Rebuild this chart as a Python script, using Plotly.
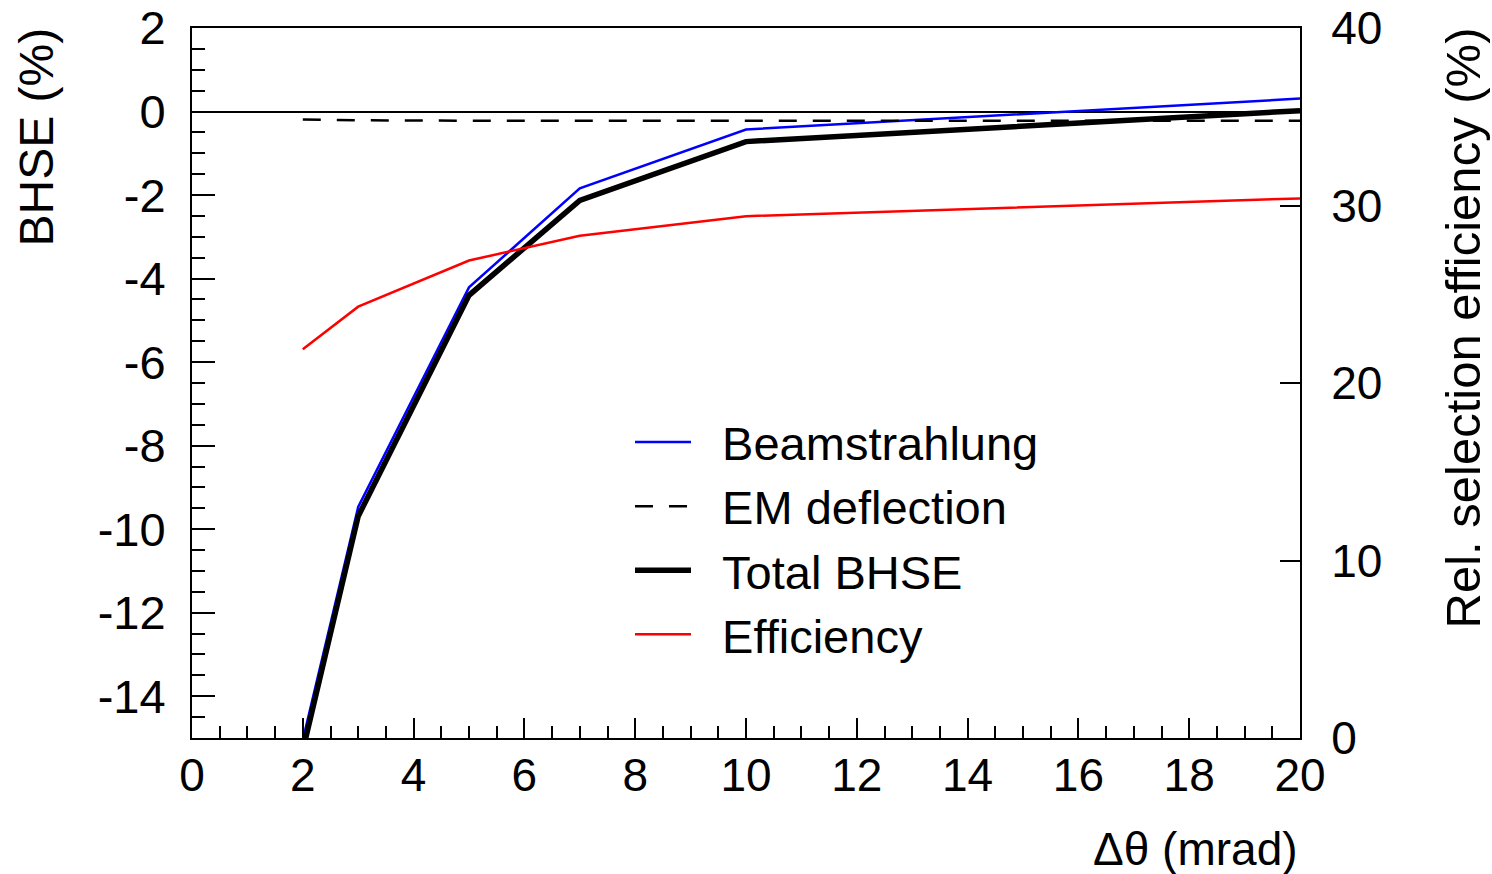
import plotly.graph_objects as go

# Data
theta = [2, 3, 5, 7, 10, 20]
beamstrahlung = [-15.05, -9.47, -4.21, -1.84, -0.43, 0.31]
em_deflection = [-0.19, -0.21, -0.22, -0.22, -0.22, -0.22]
total_bhse = [-15.3, -9.69, -4.40, -2.13, -0.72, 0.02]
efficiency = [21.9, 24.3, 26.9, 28.3, 29.4, 30.4]

x_ticks = [0, 2, 4, 6, 8, 10, 12, 14, 16, 18, 20]
y_ticks = [2, 0, -2, -4, -6, -8, -10, -12, -14]
y_ticklabels = ["2", "0", "-2", "-4", "-6", "-8", "-10", "-12", "-14"]
y2_ticks = [0, 10, 20, 30, 40]

FONT = "Liberation Sans, Arial, Helvetica, sans-serif"
FS = 46
NB = "\u00a0\u00a0"

fig = go.Figure()
fig.add_trace(go.Scatter(x=theta, y=beamstrahlung, mode="lines", name=NB + "Beamstrahlung",
                         line=dict(color="#0000ff", width=2.5)))
fig.add_trace(go.Scatter(x=theta, y=em_deflection, mode="lines", name=NB + "EM deflection",
                         line=dict(color="black", width=2.5, dash="18px,16px")))
fig.add_trace(go.Scatter(x=theta, y=total_bhse, mode="lines", name=NB + "Total BHSE",
                         line=dict(color="black", width=5.5)))
fig.add_trace(go.Scatter(x=theta, y=efficiency, mode="lines", name=NB + "Efficiency",
                         line=dict(color="#ff0000", width=2.5), yaxis="y2"))

L, R, T, B = 192, 1300, 28, 738
W, H = 1492, 874

def px(xp):
    return (xp - L) / (R - L)

def py(yp):
    return (B - yp) / (B - T)

fig.update_layout(
    width=W, height=H,
    margin=dict(l=L, r=W - R, t=T, b=H - B, pad=0, autoexpand=False),
    paper_bgcolor="white", plot_bgcolor="white",
    font=dict(family=FONT, size=FS, color="black"),
    showlegend=True,
    legend=dict(x=px(630), y=py(405), xanchor="left", yanchor="top",
                bgcolor="rgba(0,0,0,0)", font=dict(size=47, family=FONT), itemwidth=56,
                tracegroupgap=0),
    xaxis=dict(range=[0, 20], tickvals=x_ticks, showgrid=False, zeroline=False, automargin=False,
               showline=True, linecolor="black", linewidth=2, mirror=True,
               ticks="inside", ticklen=20, tickwidth=1.5, tickcolor="black",
               minor=dict(dtick=0.5, ticks="inside", ticklen=12, tickwidth=1.5, tickcolor="black"),
               tickfont=dict(size=FS), ticklabelstandoff=-4),
    yaxis=dict(range=[-15, 2], tickvals=y_ticks, ticktext=y_ticklabels, showgrid=False,
               automargin=False,
               zeroline=True, zerolinecolor="black", zerolinewidth=1.5,
               showline=True, linecolor="black", linewidth=2,
               ticks="inside", ticklen=23, tickwidth=1.5, tickcolor="black",
               minor=dict(dtick=0.5, ticks="inside", ticklen=13, tickwidth=1.5, tickcolor="black"),
               tickfont=dict(size=47), ticklabelstandoff=15),
    yaxis2=dict(range=[0, 40], tickvals=y2_ticks, overlaying="y", side="right", automargin=False,
                showgrid=False, zeroline=False, showline=True, linecolor="black", linewidth=2,
                ticks="inside", ticklen=20, tickwidth=1.5, tickcolor="black",
                tickfont=dict(size=FS), ticklabelstandoff=20),
)

fig.add_annotation(text="BHSE (%)", xref="paper", yref="paper",
                   x=px(36), y=py(26), xanchor="center", yanchor="top",
                   textangle=-90, showarrow=False, font=dict(size=48))
fig.add_annotation(text="Rel. selection efficiency (%)", xref="paper", yref="paper",
                   x=px(1462), y=py(26), xanchor="center", yanchor="top",
                   textangle=-90, showarrow=False, font=dict(size=49))
fig.add_annotation(text="Δθ (mrad)", xref="paper", yref="paper",
                   x=px(1300), y=py(849), xanchor="right", yanchor="middle",
                   showarrow=False, font=dict(size=FS))

fig.write_html("out.html")
